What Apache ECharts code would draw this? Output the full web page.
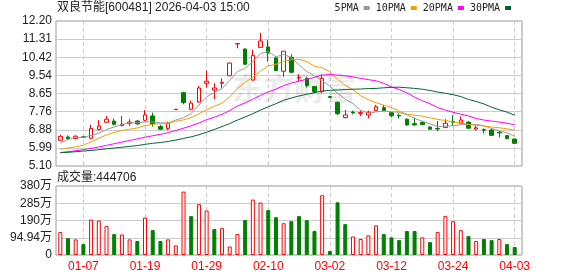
<!DOCTYPE html>
<html>
<head>
<meta charset="utf-8">
<script src="https://cdn.jsdelivr.net/npm/echarts@6/dist/echarts.min.js"></script>
<style>html,body{margin:0;padding:0;background:#fff;}#c{width:578px;height:276px;}</style>
</head>
<body>
<div id="c"></div>
<script>
const dates = ['12-31','01-05','01-06','01-07','01-08','01-09','01-12','01-13','01-14','01-15','01-16','01-19','01-20','01-21','01-22','01-23','01-26','01-27','01-28','01-29','01-30','02-02','02-03','02-04','02-05','02-06','02-09','02-10','02-11','02-12','02-13','02-24','02-25','02-26','02-27','03-02','03-03','03-04','03-05','03-06','03-09','03-10','03-11','03-12','03-13','03-16','03-17','03-18','03-19','03-20','03-23','03-24','03-25','03-26','03-27','03-30','03-31','04-01','04-02','04-03'];
// [open, close, low, high]
const candles = [
[6.36,6.55,6.33,6.63],[6.52,6.44,6.37,6.60],[6.44,6.56,6.40,6.60],[6.53,6.50,6.47,6.55],[6.46,6.94,6.41,7.11],
[6.88,7.06,6.85,7.35],[7.24,7.39,7.22,7.55],[7.30,7.14,7.09,7.42],[7.08,7.15,7.04,7.55],[7.19,7.25,7.06,7.39],
[7.30,7.16,7.12,7.35],[7.34,7.60,7.29,7.84],[7.55,7.16,7.03,7.71],[7.03,6.90,6.86,7.12],[6.94,7.19,6.86,7.27],
[7.86,7.88,7.85,7.89],[8.69,8.21,8.12,8.74],[7.88,8.18,7.83,8.30],[8.23,8.92,8.20,9.02],[9.15,9.25,8.94,9.77],
[8.82,8.92,8.38,9.15],[9.15,9.20,8.90,9.39],[9.52,10.14,9.51,10.16],[11.08,11.09,10.86,11.09],[10.83,10.08,10.07,10.84],
[9.31,10.52,9.28,10.78],[10.91,11.22,10.90,11.62],[10.93,10.63,10.21,11.27],[10.39,9.77,9.76,10.45],[9.74,10.72,9.47,10.73],
[10.42,9.69,9.64,10.57],[9.41,9.44,9.23,9.59],[9.39,9.03,8.94,9.47],[9.00,8.74,8.66,9.01],[8.74,9.39,8.66,9.59],
[8.50,8.46,8.45,8.51],[8.22,7.66,7.60,8.25],[7.47,7.60,7.43,7.84],[7.74,7.70,7.63,7.81],[7.66,7.715,7.55,7.81],
[7.60,7.73,7.43,7.81],[7.81,8.00,7.79,8.09],[7.96,7.81,7.80,8.09],[7.71,7.56,7.48,7.72],[7.58,7.55,7.43,7.68],
[7.39,7.11,7.08,7.43],[7.17,7.11,7.08,7.47],[7.24,7.13,7.09,7.29],[7.01,6.90,6.89,7.04],[6.94,6.91,6.81,7.30],
[6.98,7.19,6.97,7.39],[7.27,7.24,7.08,7.58],[7.19,7.35,7.18,7.52],[7.25,6.95,6.94,7.29],[6.91,6.97,6.83,7.11],
[6.88,6.85,6.70,6.94],[6.86,6.60,6.59,6.94],[6.75,6.72,6.50,6.81],[6.59,6.44,6.41,6.62],[6.42,6.21,6.20,6.44]
];
const ma5 = [6.22,6.40,6.50,6.50,6.60,6.70,6.89,7.01,7.14,7.20,7.22,7.26,7.26,7.21,7.20,7.35,7.47,7.67,8.08,8.49,8.70,8.89,9.29,9.72,9.89,10.21,10.61,10.71,10.44,10.57,10.41,10.05,9.73,9.52,9.26,9.01,8.66,8.37,8.16,7.83,7.68,7.75,7.79,7.76,7.73,7.61,7.43,7.29,7.16,7.03,7.05,7.07,7.12,7.13,7.14,7.07,6.94,6.82,6.72,6.56];
const ma10 = [5.92,5.98,6.04,6.12,6.28,6.46,6.62,6.74,6.84,6.90,6.96,7.08,7.14,7.18,7.20,7.28,7.36,7.47,7.65,7.85,8.02,8.18,8.48,8.90,9.19,9.45,9.75,10.00,10.08,10.23,10.31,10.33,10.22,9.98,9.92,9.71,9.35,9.05,8.84,8.54,8.35,8.20,8.08,7.96,7.78,7.64,7.59,7.54,7.46,7.38,7.33,7.25,7.21,7.14,7.09,7.06,7.01,6.97,6.92,6.85];
const ma20 = [5.76,5.80,5.85,5.90,5.96,6.03,6.11,6.19,6.27,6.35,6.43,6.51,6.58,6.65,6.73,6.84,6.95,7.07,7.20,7.37,7.49,7.63,7.81,8.04,8.19,8.37,8.56,8.73,8.86,9.04,9.16,9.26,9.35,9.44,9.55,9.58,9.55,9.52,9.46,9.39,9.33,9.27,9.15,8.97,8.85,8.68,8.47,8.30,8.15,7.96,7.84,7.73,7.64,7.55,7.43,7.35,7.30,7.25,7.19,7.12];
const ma30 = [5.75,5.77,5.80,5.83,5.86,5.90,5.94,5.98,6.02,6.06,6.10,6.16,6.21,6.25,6.30,6.37,6.45,6.53,6.63,6.75,6.89,7.03,7.18,7.35,7.50,7.66,7.84,8.00,8.15,8.32,8.43,8.53,8.61,8.69,8.77,8.81,8.82,8.84,8.86,8.87,8.89,8.90,8.93,8.95,8.96,8.93,8.90,8.86,8.80,8.72,8.66,8.59,8.50,8.36,8.26,8.14,7.98,7.85,7.74,7.59];
const volumes = [1260000,930000,860000,600000,1950000,1900000,1590000,1150000,1130000,860000,770000,2060000,1370000,770000,860000,530000,3490000,2140000,2800000,2450000,1430000,1480000,470000,1150000,1920000,3050000,2890000,2470000,2080000,1750000,1860000,2140000,1920000,1320000,3290000,220000,2900000,1700000,1020000,880000,1080000,1630000,1150000,970000,820000,1320000,1320000,970000,710000,1260000,2140000,1860000,1370000,1040000,770000,880000,820000,880000,600000,444706];
// 1 = red (up vs previous close), 0 = green
const volUp = [1,0,1,0,1,1,1,0,1,1,0,1,0,0,1,1,1,0,1,1,0,1,1,1,0,1,1,0,0,1,0,0,0,0,1,0,0,0,1,1,1,1,0,0,0,0,0,1,0,1,1,1,1,0,1,0,0,1,0,0];
const priceTicks = ['5.10','5.99','6.88','7.76','8.65','9.54','10.42','11.31','12.20'];
const volTicks = ['0','94.94万','190万','285万','380万'];
const maNames = ['5PMA','10PMA','20PMA','30PMA'];
const maColors = ['#9a9a9a','#f0a000','#ff00ff','#006633'];

const FONT = '"Liberation Sans","Noto Sans CJK SC",sans-serif';
const MONO = '"DejaVu Sans Mono","Liberation Mono",monospace';
const chart = echarts.init(document.getElementById('c'), null, {renderer:'canvas'});
const showIdx = (i) => i % 8 === 3;
const red = '#ff0000', green = '#008000';

const maSeries = [ma5, ma10, ma20, ma30].map((d, k) => ({
  type: 'line', name: maNames[k], xAxisIndex: 1, yAxisIndex: 1, data: d,
  symbol: 'none', showSymbol: false, silent: true,
  lineStyle: {width: 1, color: maColors[k]}, itemStyle: {color: maColors[k]}
}));

chart.setOption({
  animation: false,
  textStyle: {fontFamily: FONT},
  title: [
    {text: '双良节能[600481] 2026-04-03 15:00', left: 57, top: 2, padding: 0,
     textStyle: {fontSize: 12, fontWeight: 'normal', color: '#222', fontFamily: FONT}},
    {text: '成交量:' + volumes[volumes.length - 1], left: 57, top: 172, padding: 0,
     textStyle: {fontSize: 12, fontWeight: 'normal', color: '#222', fontFamily: FONT}}
  ],
  legend: {
    data: maNames, right: 67, top: 3, padding: 0, itemWidth: 6, itemHeight: 4, itemGap: 6,
    align: 'right', icon: 'rect', textStyle: {fontSize: 10, color: '#222', fontFamily: MONO}
  },
  graphic: [{
    type: 'text', left: 232, top: 76, z: 1, silent: true,
    style: {text: '东方财富', fontSize: 31, fontWeight: 'bold', fill: 'rgba(0,0,0,0.08)', fontFamily: FONT}
  }],
  grid: [
    {left: 56, top: 21, width: 466, height: 145, show: true, borderColor: '#999', borderWidth: 1},
    {left: 60.3, top: 21, width: 454.4, height: 145, show: false},
    {left: 56, top: 186, width: 466, height: 69, show: true, borderColor: '#999', borderWidth: 1},
    {left: 60.3, top: 186, width: 454.4, height: 69, show: false}
  ],
  xAxis: [
    {gridIndex: 0, type: 'value', min: 0, max: 1, show: false},
    {gridIndex: 1, type: 'category', data: dates, boundaryGap: false,
     axisLine: {show: false}, axisTick: {show: false}, axisLabel: {show: false},
     splitLine: {show: true, interval: showIdx, lineStyle: {color: '#ccc', type: [4, 3]}}},
    {gridIndex: 2, type: 'value', min: 0, max: 1, show: false},
    {gridIndex: 3, type: 'category', data: dates, boundaryGap: false,
     axisLine: {show: false}, axisTick: {show: false},
     axisLabel: {show: true, interval: showIdx, color: red, fontSize: 12, margin: 6, fontFamily: FONT},
     splitLine: {show: true, interval: showIdx, lineStyle: {color: '#ccc', type: [4, 3]}}}
  ],
  yAxis: [
    {gridIndex: 0, type: 'value', min: 5.1, max: 12.2, interval: 0.8875,
     axisLine: {show: false}, axisTick: {show: false},
     axisLabel: {formatter: (v, i) => priceTicks[i], color: '#222', fontSize: 12, margin: 4, fontFamily: FONT},
     splitLine: {show: true, lineStyle: {color: '#ccc'}}},
    {gridIndex: 1, type: 'value', min: 5.1, max: 12.2, show: false, splitLine: {show: false}},
    {gridIndex: 2, type: 'value', min: 0, max: 3800000, interval: 950000,
     axisLine: {show: false}, axisTick: {show: false},
     axisLabel: {formatter: (v, i) => volTicks[i], color: '#222', fontSize: 12, margin: 4, fontFamily: FONT},
     splitLine: {show: true, lineStyle: {color: '#ccc'}}},
    {gridIndex: 3, type: 'value', min: 0, max: 3800000, show: false, splitLine: {show: false}}
  ],
  series: [
    {type: 'candlestick', name: 'K', xAxisIndex: 1, yAxisIndex: 1, data: candles, barWidth: 4,
     itemStyle: {color: '#ffffff', color0: green, borderColor: red, borderColor0: green, borderWidth: 1}},
    ...maSeries,
    {type: 'bar', name: 'VOL', xAxisIndex: 3, yAxisIndex: 3, barWidth: 4,
     data: volumes.map((v, i) => ({
       value: v,
       itemStyle: volUp[i] ? {color: '#ffffff', borderColor: red, borderWidth: 1}
                           : {color: green, borderColor: green, borderWidth: 1}
     }))}
  ]
});
</script>
</body>
</html>
